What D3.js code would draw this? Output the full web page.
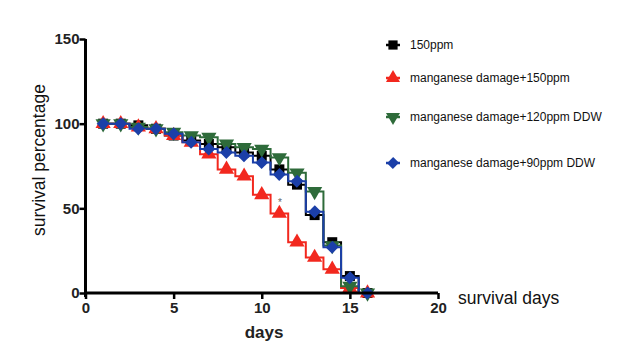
<!DOCTYPE html>
<html><head><meta charset="utf-8">
<script src="https://cdn.jsdelivr.net/npm/d3@7"></script>
<style>body{margin:0;background:#fff}svg{display:block}</style>
</head><body>
<script>
const days = [1,2,3,4,5,6,7,8,9,10,11,12,13,14,15,16];
const s150 = [100,100,99,97,93,90,88,86,83,81,73,64,46,30,10,0];
const sMn150 = [100,100,98,97,93,89,82,73,69,58,47,30,21,14,3,0];
const sMn120 = [100,100,98,97,95,93,92,88,86,85,80,71,60,28,4,0];
const sMn90 = [100,100,97,97,94,89,85,83,81,77,70,66,48,27,9,0];
const seriesNames = ["150ppm","manganese damage+150ppm","manganese damage+120ppm DDW","manganese damage+90ppm DDW"];
const seriesColors = ["#000000","#f2281e","#2e6b3a","#1b3fa8"];
const seriesSymbols = ["square","triangleUp","triangleDown","diamond"];
const xTicks = [0,5,10,15,20];
const yTicks = [0,50,100,150];

const W=629,H=355;
const svg=d3.select("body").append("svg").attr("width",W).attr("height",H);
const x=d3.scaleLinear().domain([0,20]).range([85.5,438]);
const y=d3.scaleLinear().domain([0,150]).range([293,39]);

const allSeries=[s150,sMn150,sMn120,sMn90];
const line=d3.line().x((d,i)=>x(days[i])).y(d=>y(d)).curve(d3.curveStep);

function sym(type,size){
  if(type==="triangleUp"||type==="triangleDown") return d3.symbol(d3.symbolTriangle,size)();
  if(type==="diamond") return d3.symbol(d3.symbolSquare,size*0.8)();
  return d3.symbol(d3.symbolSquare,size)();
}
function rot(type){
  if(type==="triangleDown") return " rotate(180)";
  if(type==="diamond") return " rotate(45) scale(1,1.05)";
  return "";
}

allSeries.forEach((vals,k)=>{
  svg.append("path").attr("d",line(vals)).attr("fill","none")
    .attr("stroke",seriesColors[k]).attr("stroke-width",2);
});
allSeries.forEach((vals,k)=>{
  svg.append("g").selectAll("path").data(vals).join("path")
    .attr("d",sym(seriesSymbols[k],100))
    .attr("transform",(d,i)=>`translate(${x(days[i])},${y(d)})`+rot(seriesSymbols[k]))
    .attr("fill",seriesColors[k]);
});

// asterisk
svg.append("text").attr("x",280).attr("y",206).attr("text-anchor","middle")
  .attr("font-family","Liberation Sans, Arial, sans-serif").attr("font-size",10).attr("fill","#666").text("*");

// axes
const xAxis=d3.axisBottom(x).tickValues(xTicks).tickSize(6).tickPadding(3).tickFormat(d3.format("d"));
const yAxis=d3.axisLeft(y).tickValues(yTicks).tickSize(6).tickPadding(0).tickFormat(d3.format("d"));
const gx=svg.append("g").attr("transform",`translate(0,${y(0)})`).call(xAxis);
const gy=svg.append("g").attr("transform",`translate(${x(0)},0)`).call(yAxis);
[gx,gy].forEach(g=>{
  g.select(".domain").attr("stroke","#000").attr("stroke-width",3);
  g.selectAll(".tick line").attr("stroke","#000").attr("stroke-width",2.5);
  g.selectAll("text").attr("font-family","Liberation Sans, Arial, sans-serif")
    .attr("font-weight","bold").attr("font-size",15).attr("fill","#222");
});
gx.select(".domain").attr("d",`M${x(0)},0H${x(20)}`);
gy.select(".domain").attr("d",`M0,${y(150)}V${y(0)+4}`);

svg.append("text").attr("transform","translate(45,160) rotate(-90)").attr("text-anchor","middle")
  .attr("font-family","Liberation Sans, Arial, sans-serif").attr("font-size",17.5).attr("fill","#111")
  .text("survival percentage");
svg.append("text").attr("x",264).attr("y",338).attr("text-anchor","middle")
  .attr("font-family","Liberation Sans, Arial, sans-serif").attr("font-weight","bold").attr("font-size",17).attr("fill","#222")
  .text("days");
svg.append("text").attr("x",458).attr("y",304)
  .attr("font-family","Liberation Sans, Arial, sans-serif").attr("font-size",17.5).attr("fill","#111")
  .text("survival days");

// legend
const legY=[45,78,117,163];
seriesNames.forEach((n,k)=>{
  svg.append("path").attr("d",sym(seriesSymbols[k],85))
    .attr("transform",`translate(393,${legY[k]})`+rot(seriesSymbols[k]))
    .attr("fill",seriesColors[k]);
  svg.append("line").attr("x1",386).attr("x2",400).attr("y1",legY[k]).attr("y2",legY[k])
    .attr("stroke",seriesColors[k]).attr("stroke-width",2.5);
  svg.append("text").attr("x",410).attr("y",legY[k]+4)
    .attr("font-family","Liberation Sans, Arial, sans-serif").attr("font-size",12).attr("fill","#111")
    .text(n);
});
</script>
</body></html>
